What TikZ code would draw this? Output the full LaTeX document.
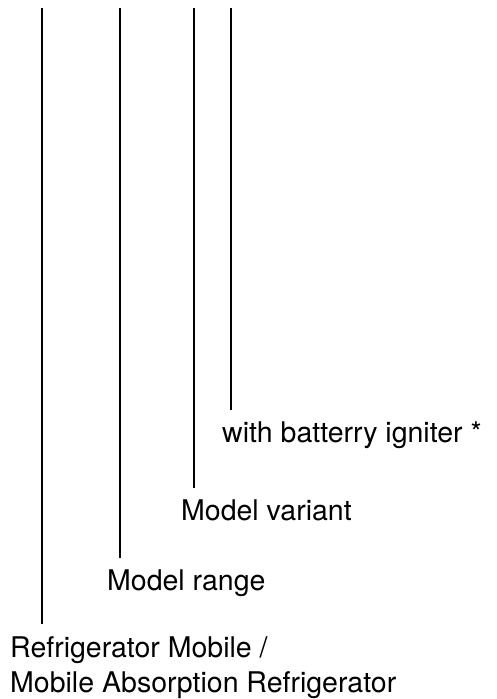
\documentclass[tikz,border=0pt]{standalone}
\usepackage{fontspec}
\setmainfont{TeX Gyre Heros}
\usetikzlibrary{positioning}

\begin{document}
\begin{tikzpicture}[x=1pt, y=-1pt,
	lbl/.style={anchor=base west, inner sep=0pt,
		font=\fontsize{28.5}{35}\selectfont, align=left},
	stem/.style={line width=2pt}]
\useasboundingbox (0,0) rectangle (497,699);

% labels
\node[lbl] (family) at (10,692) {Refrigerator Mobile /\\Mobile Absorption Refrigerator};
\node[lbl, text height=21pt] (range) at (107,590) {Model range};
\node[lbl, text height=21pt] (variant) at (181,520) {Model variant};
\node[lbl, text height=21pt] (igniter) at (222,442) {with batterry igniter *};

% stems from the top edge
\coordinate (t1) at (42,8);
\coordinate (t2) at (120,8);
\coordinate (t3) at (194,8);
\coordinate (t4) at (231,8);

\draw[stem] (t1) -- ([yshift=12pt]family.north -| t1);
\draw[stem] (t2) -- ([yshift=11pt]range.north -| t2);
\draw[stem] (t3) -- ([yshift=11pt]variant.north -| t3);
\draw[stem] (t4) -- ([yshift=11pt]igniter.north -| t4);

\end{tikzpicture}
\end{document}
